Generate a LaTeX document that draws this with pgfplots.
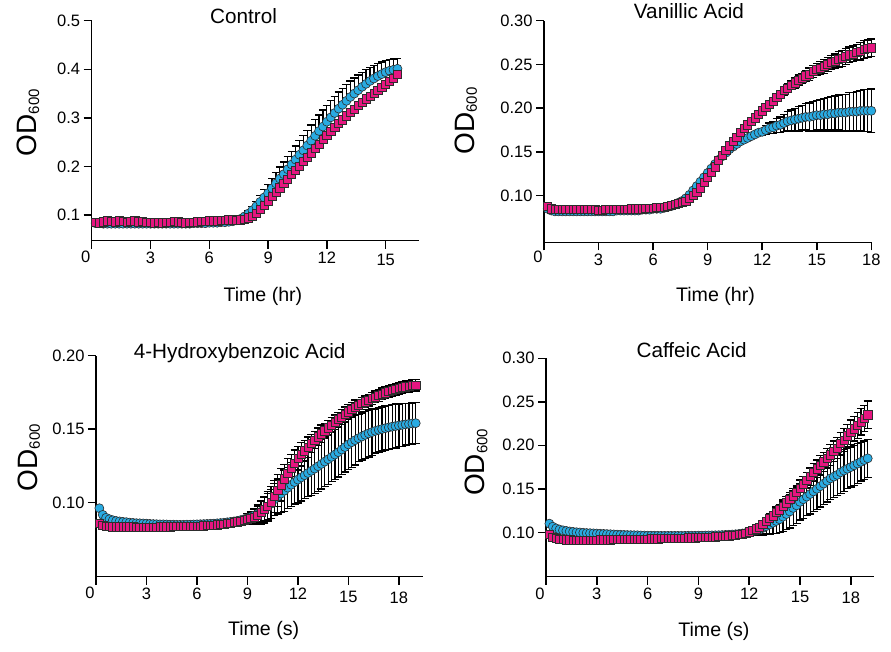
\documentclass[border=0pt]{standalone}
\usepackage{fontspec}
\setmainfont{Liberation Sans}
\usepackage{pgfplots}
\usepackage{pgfplotstable}
\pgfplotsset{compat=1.18}
\definecolor{cblue}{RGB}{41,171,226}
\definecolor{cpink}{RGB}{230,22,128}
\definecolor{edge}{RGB}{45,45,45}

% Control: t, blue, blue err, pink
\pgfplotstableread{
t b be p
0.2 0.083 0 0.085
0.4 0.083 0 0.084
0.6 0.082 0 0.086
0.8 0.082 0 0.088
1.0 0.082 0 0.087
1.2 0.082 0 0.086
1.4 0.082 0 0.088
1.6 0.082 0 0.087
1.8 0.082 0 0.085
2.0 0.082 0 0.087
2.2 0.082 0 0.088
2.4 0.082 0 0.086
2.6 0.082 0 0.087
2.8 0.082 0 0.085
3.0 0.082 0 0.085
3.2 0.082 0 0.084
3.4 0.082 0 0.085
3.6 0.082 0 0.084
3.8 0.082 0 0.085
4.0 0.082 0 0.085
4.2 0.082 0 0.087
4.4 0.082 0 0.086
4.6 0.082 0 0.085
4.8 0.082 0 0.084
5.0 0.082 0 0.085
5.2 0.083 0 0.085
5.4 0.083 0 0.086
5.6 0.083 0 0.087
5.8 0.083 0 0.087
6.0 0.084 0 0.088
6.2 0.084 0 0.088
6.4 0.084 0 0.088
6.6 0.085 0 0.089
6.8 0.085 0 0.089
7.0 0.086 0 0.090
7.2 0.087 0 0.090
7.4 0.089 0 0.089
7.6 0.092 0 0.090
7.8 0.097 0.003 0.091
8.0 0.103 0.005 0.094
8.2 0.110 0.007 0.098
8.4 0.118 0.010 0.104
8.6 0.127 0.013 0.111
8.8 0.136 0.016 0.120
9.0 0.145 0.018 0.129
9.2 0.155 0.020 0.138
9.4 0.165 0.022 0.147
9.6 0.175 0.024 0.156
9.8 0.184 0.025 0.165
10.0 0.194 0.026 0.174
10.2 0.204 0.027 0.183
10.4 0.214 0.028 0.192
10.6 0.224 0.029 0.201
10.8 0.233 0.030 0.210
11.0 0.243 0.031 0.219
11.2 0.253 0.032 0.228
11.4 0.263 0.033 0.237
11.6 0.273 0.033 0.246
11.8 0.282 0.034 0.255
12.0 0.292 0.034 0.264
12.2 0.301 0.034 0.272
12.4 0.310 0.034 0.280
12.6 0.319 0.034 0.288
12.8 0.327 0.034 0.296
13.0 0.335 0.033 0.304
13.2 0.343 0.033 0.311
13.4 0.350 0.032 0.318
13.6 0.357 0.031 0.325
13.8 0.364 0.030 0.332
14.0 0.370 0.029 0.339
14.2 0.376 0.028 0.345
14.4 0.381 0.027 0.351
14.6 0.386 0.026 0.357
14.8 0.390 0.025 0.363
15.0 0.394 0.024 0.369
15.2 0.397 0.023 0.375
15.4 0.399 0.022 0.382
15.6 0.401 0.021 0.389
}\ctrl

% Vanillic acid
\pgfplotstableread{
t b be p pe
0.2 0.085 0 0.088 0
0.4 0.083 0 0.085 0
0.6 0.082 0 0.084 0
0.8 0.082 0 0.084 0
1.0 0.082 0 0.084 0
1.2 0.082 0 0.084 0
1.4 0.082 0 0.084 0
1.6 0.082 0 0.084 0
1.8 0.082 0 0.084 0
2.0 0.082 0 0.084 0
2.2 0.082 0 0.084 0
2.4 0.082 0 0.084 0
2.6 0.082 0 0.084 0
2.8 0.082 0 0.084 0
3.0 0.082 0 0.083 0
3.2 0.082 0 0.083 0
3.4 0.082 0 0.084 0
3.6 0.082 0 0.084 0
3.8 0.082 0 0.084 0
4.0 0.083 0 0.084 0
4.2 0.083 0 0.084 0
4.4 0.083 0 0.084 0
4.6 0.083 0 0.084 0
4.8 0.083 0 0.085 0
5.0 0.083 0 0.085 0
5.2 0.083 0 0.085 0
5.4 0.084 0 0.085 0
5.6 0.084 0 0.086 0
5.8 0.084 0 0.086 0
6.0 0.085 0 0.086 0
6.2 0.085 0 0.087 0
6.4 0.085 0 0.087 0
6.6 0.086 0 0.087 0
6.8 0.087 0 0.088 0
7.0 0.088 0 0.089 0
7.2 0.090 0 0.090 0
7.4 0.092 0 0.091 0
7.6 0.094 0 0.092 0
7.8 0.097 0 0.094 0
8.0 0.101 0 0.097 0
8.2 0.106 0 0.100 0
8.4 0.111 0 0.104 0
8.6 0.116 0 0.109 0
8.8 0.121 0 0.115 0
9.0 0.126 0 0.121 0
9.2 0.131 0 0.127 0
9.4 0.136 0 0.133 0
9.6 0.141 0 0.140 0
9.8 0.145 0 0.146 0
10.0 0.149 0 0.152 0
10.2 0.153 0 0.157 0
10.4 0.156 0 0.162 0
10.6 0.159 0 0.167 0
10.8 0.162 0 0.172 0
11.0 0.164 0 0.177 0
11.2 0.166 0 0.181 0
11.4 0.168 0 0.185 0
11.6 0.170 0.002 0.189 0
11.8 0.172 0.003 0.193 0
12.0 0.173 0.004 0.197 0.002
12.2 0.175 0.005 0.201 0.002
12.4 0.177 0.006 0.204 0.003
12.6 0.178 0.007 0.208 0.003
12.8 0.180 0.008 0.212 0.004
13.0 0.181 0.009 0.216 0.004
13.2 0.183 0.010 0.220 0.005
13.4 0.185 0.011 0.223 0.005
13.6 0.186 0.012 0.226 0.005
13.8 0.187 0.013 0.229 0.006
14.0 0.188 0.014 0.232 0.006
14.2 0.189 0.014 0.234 0.006
14.4 0.190 0.015 0.237 0.006
14.6 0.190 0.016 0.239 0.007
14.8 0.191 0.017 0.242 0.007
15.0 0.192 0.017 0.244 0.007
15.2 0.192 0.018 0.246 0.007
15.4 0.193 0.018 0.248 0.008
15.6 0.193 0.019 0.250 0.008
15.8 0.194 0.019 0.252 0.008
16.0 0.194 0.020 0.254 0.008
16.2 0.195 0.020 0.256 0.009
16.4 0.195 0.021 0.257 0.009
16.6 0.195 0.021 0.259 0.009
16.8 0.196 0.022 0.261 0.009
17.0 0.196 0.022 0.262 0.009
17.2 0.196 0.023 0.264 0.009
17.4 0.197 0.023 0.265 0.010
17.6 0.197 0.024 0.267 0.010
17.8 0.197 0.024 0.268 0.010
18.0 0.197 0.025 0.269 0.010
}\vani

% 4-Hydroxybenzoic acid
\pgfplotstableread{
t b be p pe
0.2 0.0960 0 0.0855 0
0.4 0.0915 0 0.0842 0
0.6 0.0895 0 0.0836 0
0.8 0.0885 0 0.0834 0
1.0 0.0878 0 0.0833 0
1.2 0.0873 0 0.0833 0
1.4 0.0870 0 0.0833 0
1.6 0.0867 0 0.0833 0
1.8 0.0865 0 0.0833 0
2.0 0.0862 0 0.0833 0
2.2 0.0860 0 0.0833 0
2.4 0.0858 0 0.0832 0
2.6 0.0857 0 0.0832 0
2.8 0.0856 0 0.0832 0
3.0 0.0855 0 0.0832 0
3.2 0.0853 0 0.0832 0
3.4 0.0852 0 0.0832 0
3.6 0.0851 0 0.0832 0
3.8 0.0850 0 0.0833 0
4.0 0.0850 0 0.0833 0
4.2 0.0849 0 0.0833 0
4.4 0.0848 0 0.0833 0
4.6 0.0848 0 0.0834 0
4.8 0.0847 0 0.0834 0
5.0 0.0847 0 0.0835 0
5.2 0.0847 0 0.0835 0
5.4 0.0848 0 0.0836 0
5.6 0.0848 0 0.0836 0
5.8 0.0849 0 0.0837 0
6.0 0.0850 0 0.0838 0
6.2 0.0851 0 0.0839 0
6.4 0.0852 0 0.0840 0
6.6 0.0853 0 0.0841 0
6.8 0.0854 0 0.0843 0
7.0 0.0855 0 0.0845 0
7.2 0.0857 0 0.0847 0
7.4 0.0859 0 0.0850 0
7.6 0.0861 0 0.0853 0
7.8 0.0864 0 0.0856 0
8.0 0.0867 0 0.0859 0
8.2 0.0870 0 0.0863 0
8.4 0.0874 0 0.0867 0
8.6 0.0879 0 0.0872 0
8.8 0.0885 0.002 0.0877 0
9.0 0.0892 0.003 0.0882 0.003
9.2 0.0900 0.004 0.0890 0.004
9.4 0.0910 0.005 0.0900 0.005
9.6 0.0922 0.006 0.0913 0.006
9.8 0.0936 0.007 0.0930 0.008
10.0 0.0952 0.008 0.0950 0.009
10.2 0.0970 0.009 0.0973 0.010
10.4 0.0990 0.010 0.1000 0.011
10.6 0.1020 0.011 0.1040 0.011
10.8 0.1040 0.012 0.1080 0.011
11.0 0.1060 0.013 0.1120 0.011
11.2 0.1080 0.014 0.1160 0.010
11.4 0.1100 0.014 0.1198 0.010
11.6 0.1120 0.015 0.1234 0.009
11.8 0.1138 0.015 0.1268 0.009
12.0 0.1155 0.016 0.1300 0.008
12.2 0.1170 0.016 0.1327 0.008
12.4 0.1185 0.016 0.1352 0.007
12.6 0.1200 0.016 0.1376 0.007
12.8 0.1215 0.017 0.1401 0.006
13.0 0.1230 0.017 0.1425 0.006
13.2 0.1246 0.017 0.1447 0.006
13.4 0.1262 0.017 0.1468 0.006
13.6 0.1278 0.017 0.1488 0.005
13.8 0.1294 0.017 0.1508 0.005
14.0 0.1310 0.017 0.1527 0.005
14.2 0.1326 0.017 0.1546 0.005
14.4 0.1342 0.017 0.1564 0.005
14.6 0.1360 0.017 0.1582 0.005
14.8 0.1377 0.017 0.1600 0.005
15.0 0.1395 0.017 0.1618 0.005
15.2 0.1410 0.017 0.1633 0.005
15.4 0.1424 0.017 0.1647 0.005
15.6 0.1437 0.016 0.1661 0.004
15.8 0.1449 0.016 0.1674 0.004
16.0 0.1460 0.016 0.1686 0.004
16.2 0.1470 0.016 0.1697 0.004
16.4 0.1479 0.016 0.1708 0.004
16.6 0.1487 0.015 0.1719 0.004
16.8 0.1494 0.015 0.1729 0.004
17.0 0.1500 0.015 0.1739 0.004
17.2 0.1506 0.015 0.1747 0.004
17.4 0.1511 0.015 0.1755 0.004
17.6 0.1516 0.015 0.1763 0.004
17.8 0.1520 0.015 0.1771 0.004
18.0 0.1524 0.0145 0.1778 0.004
18.2 0.1528 0.0145 0.1783 0.004
18.4 0.1532 0.014 0.1788 0.004
18.6 0.1535 0.014 0.1793 0.004
18.8 0.1538 0.014 0.1797 0.004
19.0 0.1540 0.014 0.1800 0.004
}\hydr

% Caffeic acid
\pgfplotstableread{
t b be p pe
0.2 0.1100 0 0.0975 0
0.4 0.1065 0 0.0945 0
0.6 0.1045 0 0.0932 0
0.8 0.1032 0 0.0922 0
1.0 0.1023 0 0.0916 0
1.2 0.1016 0 0.0914 0
1.4 0.1010 0 0.0913 0
1.6 0.1005 0 0.0912 0
1.8 0.1001 0 0.0912 0
2.0 0.0998 0 0.0912 0
2.2 0.0995 0 0.0912 0
2.4 0.0992 0 0.0912 0
2.6 0.0990 0 0.0912 0
2.8 0.0988 0 0.0912 0
3.0 0.0986 0 0.0912 0
3.2 0.0984 0 0.0913 0
3.4 0.0982 0 0.0914 0
3.6 0.0980 0 0.0914 0
3.8 0.0978 0 0.0915 0
4.0 0.0976 0 0.0916 0
4.2 0.0974 0 0.0917 0
4.4 0.0972 0 0.0917 0
4.6 0.0971 0 0.0918 0
4.8 0.0969 0 0.0919 0
5.0 0.0968 0 0.0920 0
5.2 0.0967 0 0.0921 0
5.4 0.0966 0 0.0922 0
5.6 0.0964 0 0.0922 0
5.8 0.0963 0 0.0923 0
6.0 0.0962 0 0.0924 0
6.2 0.0962 0 0.0925 0
6.4 0.0961 0 0.0926 0
6.6 0.0961 0 0.0926 0
6.8 0.0960 0 0.0927 0
7.0 0.0960 0 0.0928 0
7.2 0.0960 0 0.0929 0
7.4 0.0960 0 0.0930 0
7.6 0.0960 0 0.0931 0
7.8 0.0960 0 0.0932 0
8.0 0.0960 0 0.0934 0
8.2 0.0960 0 0.0935 0
8.4 0.0961 0 0.0936 0
8.6 0.0961 0 0.0937 0
8.8 0.0961 0 0.0938 0
9.0 0.0962 0 0.0940 0
9.2 0.0962 0 0.0941 0
9.4 0.0963 0 0.0943 0
9.6 0.0964 0 0.0944 0
9.8 0.0965 0 0.0946 0
10.0 0.0966 0 0.0948 0
10.2 0.0967 0 0.0950 0
10.4 0.0969 0 0.0953 0
10.6 0.0971 0 0.0956 0
10.8 0.0973 0 0.0959 0
11.0 0.0975 0 0.0962 0
11.2 0.0978 0 0.0967 0
11.4 0.0982 0 0.0973 0
11.6 0.0987 0 0.0980 0
11.8 0.0993 0 0.0990 0
12.0 0.1000 0.002 0.1005 0.002
12.2 0.1010 0.003 0.1020 0.002
12.4 0.1020 0.005 0.1040 0.003
12.6 0.1030 0.006 0.1060 0.003
12.8 0.1050 0.008 0.1090 0.004
13.0 0.1070 0.009 0.1130 0.004
13.2 0.1090 0.011 0.1160 0.005
13.4 0.1110 0.012 0.1190 0.005
13.6 0.1130 0.014 0.1230 0.006
13.8 0.1150 0.015 0.1260 0.006
14.0 0.1180 0.017 0.1300 0.007
14.2 0.1210 0.018 0.1340 0.007
14.4 0.1240 0.019 0.1380 0.008
14.6 0.1280 0.020 0.1420 0.008
14.8 0.1310 0.021 0.1460 0.008
15.0 0.1350 0.021 0.1510 0.009
15.2 0.1380 0.022 0.1550 0.009
15.4 0.1410 0.022 0.1600 0.009
15.6 0.1440 0.023 0.1640 0.010
15.8 0.1470 0.023 0.1690 0.010
16.0 0.1500 0.024 0.1730 0.010
16.2 0.1530 0.024 0.1770 0.011
16.4 0.1560 0.024 0.1810 0.011
16.6 0.1590 0.024 0.1850 0.011
16.8 0.1620 0.024 0.1890 0.012
17.0 0.1640 0.024 0.1930 0.012
17.2 0.1660 0.024 0.1970 0.012
17.4 0.1690 0.024 0.2020 0.013
17.6 0.1710 0.024 0.2060 0.013
17.8 0.1730 0.023 0.2110 0.013
18.0 0.1750 0.023 0.2150 0.014
18.2 0.1770 0.023 0.2190 0.014
18.4 0.1790 0.023 0.2230 0.015
18.6 0.1810 0.022 0.2270 0.015
18.8 0.1830 0.022 0.2310 0.015
19.0 0.1850 0.022 0.2350 0.016
}\caff

\pgfplotsset{
  panel/.style={
    scale only axis, clip=false, anchor=south west,
    axis lines=left, axis line style={-, line width=1.5pt, black},
    tick align=outside, major tick length=8pt,
    every tick/.style={black, line width=1.5pt},
    tick label style={font=\fontsize{16.5}{18}\selectfont},
    xmin=0,
    title style={font=\fontsize{20.7}{24}\selectfont, anchor=base},
    xlabel style={font=\fontsize{19.6}{22}\selectfont, anchor=base},
    ylabel style={font=\fontsize{28}{30}\selectfont, anchor=base},
    ylabel={OD\raisebox{-2.5pt}{\fontsize{15}{16}\selectfont 600}},
    extra x ticks={0}, extra x tick labels={0},
  },
  bluemk/.style={only marks, mark=*, mark size=4.5pt,
    mark options={fill=cblue, draw=edge, line width=0.6pt}},
  pinkmk/.style={only marks, mark=square*, mark size=4.1pt,
    mark options={fill=cpink, draw=edge, line width=0.6pt}},
  ebars/.style={draw=none, mark=none, forget plot,
    error bars/.cd, y dir=#1, y explicit,
    error bar style={draw=black, line width=1.2pt},
    error mark options={rotate=90, draw=black, line width=1.3pt, mark size=4pt},
    /pgfplots/.cd},
}

\begin{document}
\begin{tikzpicture}
\useasboundingbox (0pt,0pt) rectangle (891pt,651pt);

% ---------- Control ----------
\begin{axis}[panel, at={(91.7pt,410.3pt)}, width=327.3pt, height=220pt,
  xmax=16.7, ymin=0.047, ymax=0.5,
  xtick={3,6,9,12,15},
  xticklabels={3,6,9,12,\raisebox{-2.3pt}[\height][\depth]{15}},
  ytick={0.1,0.2,0.3,0.4,0.5},
  yticklabels={0.1,0.2,0.3,0.4,0.5},
  extra x tick style={xticklabel style={xshift=-6pt, yshift=1.7pt}},
  title={Control}, title style={at={(axis description cs:0.464,0.961)}},
  xlabel={Time (hr)}, xlabel style={at={(axis description cs:0.523,-0.277)}},
  ylabel style={at={(axis description cs:-0.168,0.537)}},
]
\addplot[skip coords between index={0}{38}, ebars=plus] table[x=t, y=b, y error=be] {\ctrl};
\addplot[bluemk] table[x=t, y=b] {\ctrl};
\addplot[pinkmk] table[x=t, y=p] {\ctrl};
\end{axis}

% ---------- Vanillic Acid ----------
\begin{axis}[panel, at={(544pt,408.7pt)}, width=327.3pt, height=221.6pt,
  xmax=18, ymin=0.0467, ymax=0.30,
  xtick={3,6,9,12,15,18},
  xticklabels={3,6,9,12,15,18},
  ytick={0.10,0.15,0.20,0.25,0.30},
  yticklabels={0.10,0.15,0.20,0.25,0.30},
  extra x tick style={xticklabel style={xshift=-6pt, yshift=3pt}},
  title={Vanillic Acid}, title style={at={(axis description cs:0.443,0.981)}},
  xlabel={Time (hr)}, xlabel style={at={(axis description cs:0.524,-0.268)}},
  ylabel style={at={(axis description cs:-0.213,0.548)}},
]
\addplot[skip coords between index={0}{57}, ebars=both] table[x=t, y=b, y error=be] {\vani};
\addplot[bluemk] table[x=t, y=b] {\vani};
\addplot[skip coords between index={0}{59}, ebars=both] table[x=t, y=p, y error=pe] {\vani};
\addplot[pinkmk] table[x=t, y=p] {\vani};
\end{axis}

% ---------- 4-Hydroxybenzoic Acid ----------
\begin{axis}[panel, at={(96pt,74.3pt)}, width=327.3pt, height=221pt,
  xmax=19.45, ymin=0.0493, ymax=0.20,
  xtick={3,6,9,12,15,18},
  xticklabels={3,6,9,12,\raisebox{-3.3pt}[\height][\depth]{15},\raisebox{-3.3pt}[\height][\depth]{18}},
  ytick={0.10,0.15,0.20},
  yticklabels={0.10,0.15,0.20},
  extra x tick style={xticklabel style={xshift=-6pt, yshift=1.7pt}},
  title={4-Hydroxybenzoic Acid}, title style={at={(axis description cs:0.439,0.962)}},
  xlabel={Time (s)}, xlabel style={at={(axis description cs:0.512,-0.268)}},
  ylabel style={at={(axis description cs:-0.179,0.539)}},
]
\addplot[skip coords between index={0}{43}, ebars=both] table[x=t, y=b, y error=be] {\hydr};
\addplot[bluemk] table[x=t, y=b] {\hydr};
\addplot[skip coords between index={0}{44}, ebars=both] table[x=t, y=p, y error=pe] {\hydr};
\addplot[pinkmk] table[x=t, y=p] {\hydr};
\end{axis}

% ---------- Caffeic Acid ----------
\begin{axis}[panel, at={(546pt,74.3pt)}, width=328pt, height=218.4pt,
  xmax=19.37, ymin=0.049, ymax=0.30,
  xtick={3,6,9,12,15,18},
  xticklabels={3,6,9,12,\raisebox{-3.3pt}[\height][\depth]{15},\raisebox{-3.3pt}[\height][\depth]{18}},
  ytick={0.10,0.15,0.20,0.25,0.30},
  yticklabels={0.10,0.15,0.20,0.25,0.30},
  extra x tick style={xticklabel style={xshift=-6pt}},
  title={Caffeic Acid}, title style={at={(axis description cs:0.444,0.974)}},
  xlabel={Time (s)}, xlabel style={at={(axis description cs:0.512,-0.275)}},
  ylabel style={at={(axis description cs:-0.186,0.523)}},
]
\addplot[skip coords between index={0}{59}, ebars=both] table[x=t, y=b, y error=be] {\caff};
\addplot[bluemk] table[x=t, y=b] {\caff};
\addplot[skip coords between index={0}{59}, ebars=both] table[x=t, y=p, y error=pe] {\caff};
\addplot[pinkmk] table[x=t, y=p] {\caff};
\end{axis}
\end{tikzpicture}
\end{document}
